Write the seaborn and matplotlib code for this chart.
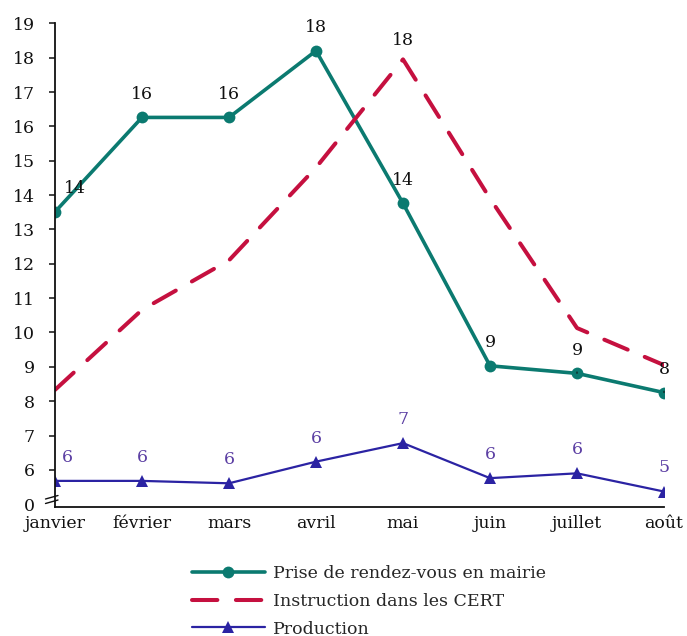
import matplotlib
matplotlib.use("Agg")
import matplotlib.pyplot as plt
from matplotlib.lines import Line2D
import seaborn as sns

months = ["janvier", "février", "mars", "avril", "mai", "juin", "juillet", "août"]
prise = [13.51, 16.26, 16.26, 18.2, 13.76, 9.03, 8.81, 8.25]
instruction = [8.33, 10.66, 12.1, 14.8, 17.95, 13.9, 10.13, 9.05]
production = [5.68, 5.68, 5.61, 6.24, 6.78, 5.76, 5.9, 5.37]

names = ["Prise de rendez-vous en mairie", "Instruction dans les CERT", "Production"]
ytick_values = [5.0] + list(range(6, 20))
ytick_labels = ["0"] + [str(v) for v in range(6, 20)]

TEAL = "#0B7A70"
CRIMSON = "#C5103F"
BLUE = "#2B23A3"
PURPLE = "#5B3EA3"
FONT = "DejaVu Serif"

sns.set_theme(style="white")
plt.rcParams["font.family"] = [FONT]
plt.rcParams["font.size"] = 12

fig = plt.figure(figsize=(6.87, 6.36), dpi=100)
ax = fig.add_axes([55 / 687, 1 - 507 / 636, (664 - 55) / 687, (507 - 23.3) / 636])

sns.lineplot(x=months, y=prise, ax=ax, color=TEAL, linewidth=2.6, marker="o",
             markersize=8.5, markeredgewidth=0, label=names[0], sort=False)
sns.lineplot(x=months, y=instruction, ax=ax, color=CRIMSON, linewidth=2.9,
             linestyle=(0, (6.3, 4.6)), dash_capstyle="round", label=names[1], sort=False)
sns.lineplot(x=months, y=production, ax=ax, color=BLUE, linewidth=1.6, marker="^",
             markersize=8, markeredgewidth=0, label=names[2], sort=False)

ax.set_xlim(0, len(months) - 1)
ax.set_ylim(4.92, 19)
ax.set_yticks(ytick_values)
ax.set_yticklabels(ytick_labels)
ax.set_xlabel("")
ax.set_ylabel("")
for side in ("top", "right"):
    ax.spines[side].set_visible(False)
for side in ("left", "bottom"):
    ax.spines[side].set_color("#111111")
    ax.spines[side].set_linewidth(1.3)
ax.tick_params(axis="y", length=4.5, width=1.1, color="#111111", labelsize=12.5,
               labelcolor="#111111", pad=10, left=True)
ax.tick_params(axis="x", length=0, labelsize=12.5, labelcolor="#111111", pad=6)
ax.yaxis.get_major_ticks()[0].tick1line.set_visible(False)

# value labels
for i, v in enumerate(prise):
    dx = 14 if i == 0 else 0
    leader = i in (6, 7)
    ax.annotate(str(round(v)), xy=(i, v), xytext=(dx, 16.5), textcoords="offset points",
                ha="center", va="center", fontsize=12.5, color="#111111",
                arrowprops=dict(arrowstyle="-", lw=0.8, color="#111111",
                                shrinkA=7, shrinkB=5.5) if leader else None)
ax.annotate(str(round(instruction[4])), xy=(4, instruction[4]), xytext=(0, 13.5),
            textcoords="offset points", ha="center", va="center",
            fontsize=12.5, color="#111111")
for i, v in enumerate(production):
    dx = 9 if i == 0 else 0
    ax.annotate(str(round(v)), xy=(i, v), xytext=(dx, 17), textcoords="offset points",
                ha="center", va="center", fontsize=12.5, color=PURPLE)

# axis break marks on the y axis
for y0 in (503.5, 499.0):
    fig.add_artist(Line2D([45.5, 58], [636 - y0, 636 - y0 + 3.5], transform=None,
                          color="#111111", lw=1.0))

ax.get_legend().remove()
handles, labels = ax.get_legend_handles_labels()
fig.legend(handles, labels, loc="upper left", bbox_to_anchor=(192 / 687, 1 - 565 / 636),
           frameon=False, fontsize=12.5, handlelength=4.2, handletextpad=0.45,
           labelspacing=0.62, borderpad=0, borderaxespad=0)

fig.savefig("out.png", dpi=100)
